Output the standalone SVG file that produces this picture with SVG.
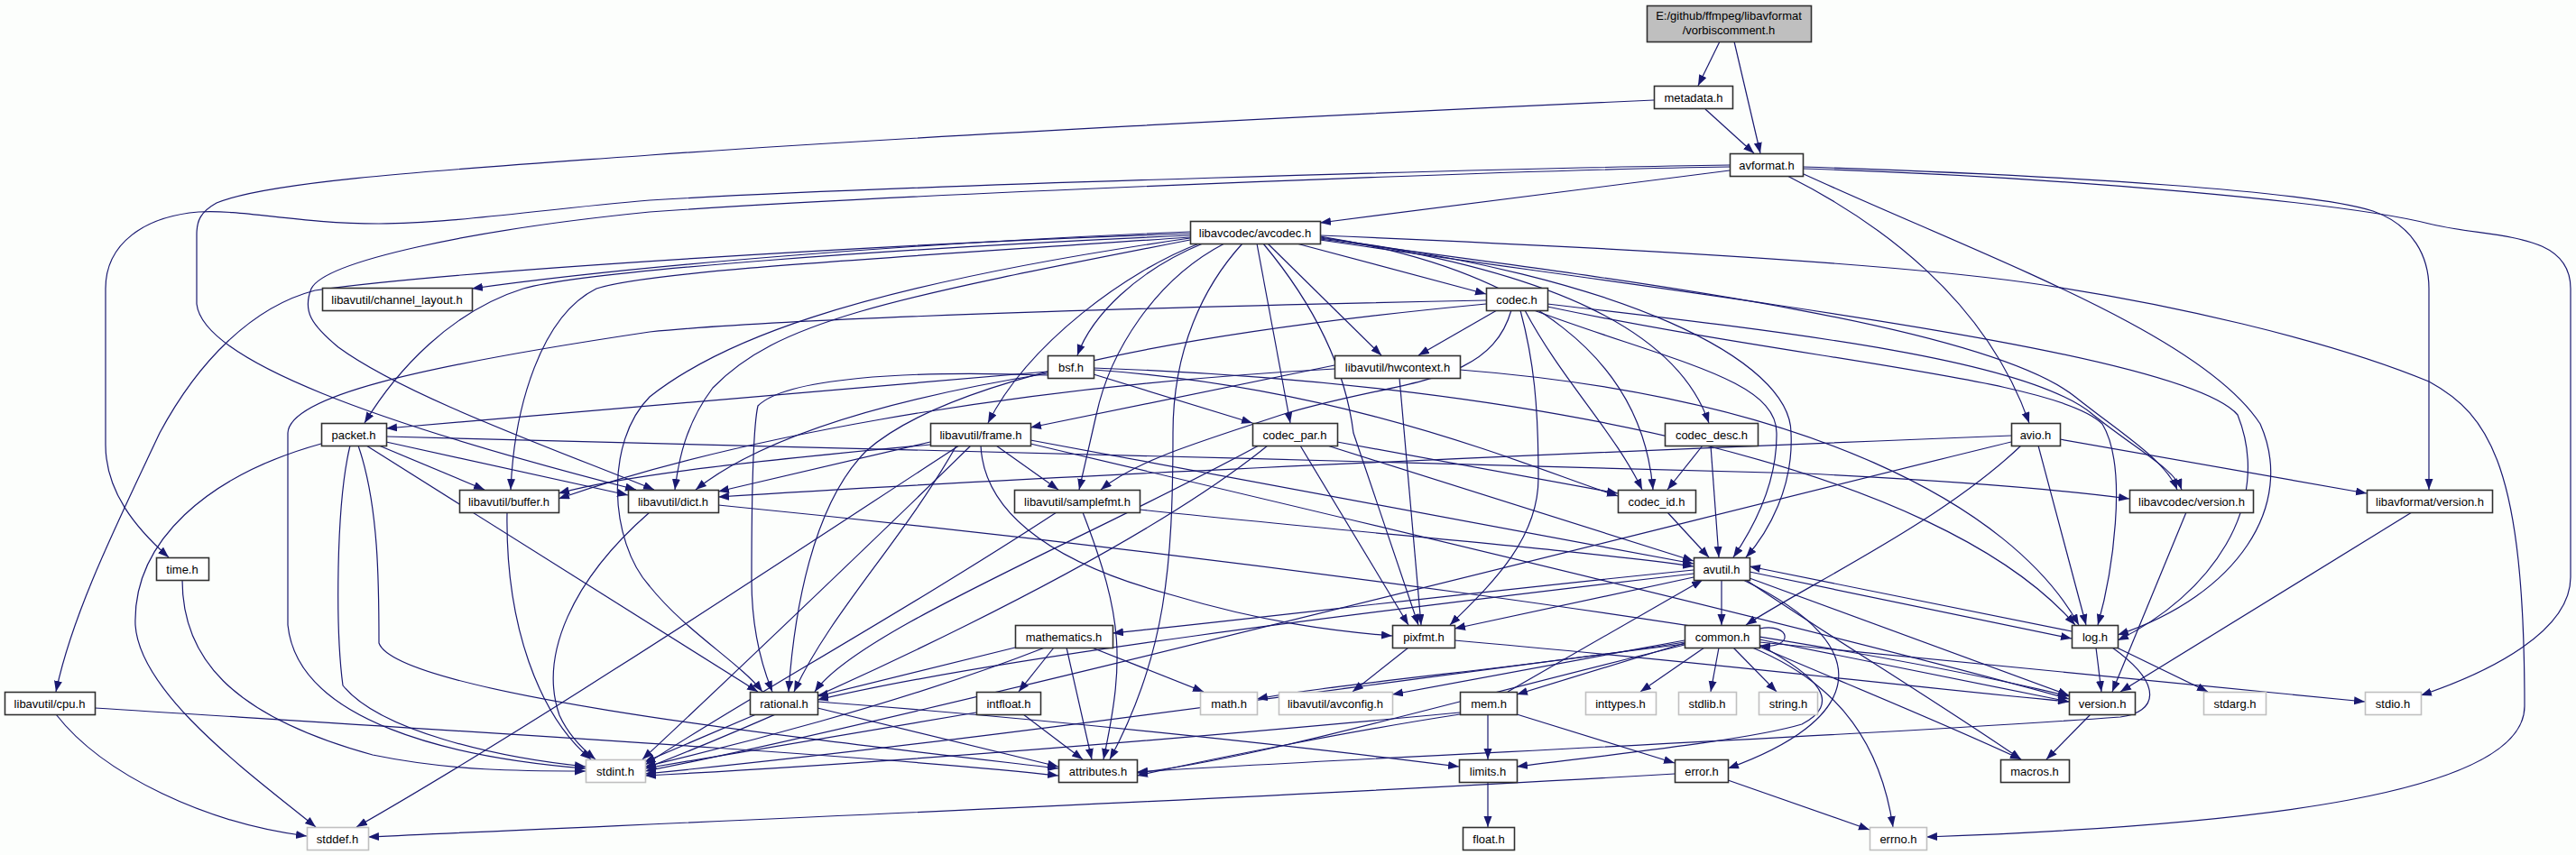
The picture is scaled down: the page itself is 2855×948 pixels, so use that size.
<svg xmlns="http://www.w3.org/2000/svg" width="2855" height="948" viewBox="0 0 2855 948">
<defs>
<marker id="a" markerWidth="12" markerHeight="10" refX="12" refY="4.5" orient="auto" markerUnits="userSpaceOnUse"><path d="M0,0 L12,4.5 L0,9 z" fill="#191970"/></marker>
<style>
.n rect{fill:#ffffff;stroke:#303030;stroke-width:1.6}
.g rect{fill:#ffffff;stroke:#c0c0c0;stroke-width:1.6}
.r rect{fill:#bfbfbf;stroke:#303030;stroke-width:1.6}
text{font-family:"Liberation Sans",Arial,sans-serif;font-size:13px;text-anchor:middle;fill:#000000}
#edges path{fill:none;stroke:#191970;stroke-width:1.2;marker-end:url(#a)}
</style>
</defs>
<rect x="0" y="0" width="2855" height="948" fill="#fcfefc"/>
<g id="edges">
<path d="M1906,46 L1882,95"/>
<path d="M1922,46 L1951,170"/>
<path d="M1890,121 L1944,170"/>
<path d="M1833,111 C1500,126 1000,152 720,172 C500,188 300,200 240,225 C222,235 218,245 218,260 L218,337 C225,400 420,470 705,543"/>
<path d="M1917,189 L1463,247"/>
<path d="M1917,183 C1700,186 1000,205 720,222 C600,232 500,248 420,248 C330,248 270,232 220,235 C160,240 117,270 117,320 L117,493 C117,545 150,585 187,618"/>
<path d="M1917,185 C1700,188 1000,215 720,235 C520,255 360,290 345,320 C335,345 345,360 375,385 C450,440 620,500 725,543"/>
<path d="M1998,185 C2300,195 2560,212 2630,234 C2675,250 2692,285 2692,320 L2692,543"/>
<path d="M1998,187 C2300,197 2600,225 2692,248 C2760,265 2849,255 2849,320 L2849,640 C2849,700 2760,745 2683,771"/>
<path d="M1981,195 C2080,245 2200,330 2249,469"/>
<path d="M1999,193 C2200,285 2440,370 2505,470 C2545,560 2480,660 2347,704"/>
<path d="M1319,257 C1000,270 700,295 523,320"/>
<path d="M1319,259 C1000,270 500,300 349,322 C280,340 220,400 177,480 C130,580 80,680 62,767"/>
<path d="M1319,261 C1000,275 650,300 580,320 C500,345 440,410 404,469"/>
<path d="M1319,263 C1000,285 720,300 661,320 C600,350 570,450 566,543"/>
<path d="M1319,266 C975,333 861,357 790,430 C760,470 752,510 748,543"/>
<path d="M1319,264 C930,320 792,383 720,440 C670,490 675,600 720,650 C760,700 820,735 845,767"/>
<path d="M1329,270 C1250,300 1140,380 1095,469"/>
<path d="M1333,270 C1260,300 1210,350 1194,394"/>
<path d="M1357,270 C1280,310 1230,390 1215,460 L1196,543"/>
<path d="M1377,270 C1334,317 1300,387 1300,480 C1300,627 1292,727 1230,842"/>
<path d="M1393,270 L1430,469"/>
<path d="M1437,270 L1647,326"/>
<path d="M1405,270 L1531,394"/>
<path d="M1400,270 C1450,330 1490,400 1500,480 L1572,693"/>
<path d="M1463,263 C1721,300 1859,367 1894,469"/>
<path d="M1463,262 C1700,300 1820,400 1832,543"/>
<path d="M1463,264 C1800,305 1985,400 1985,480 C1988,540 1960,590 1935,618"/>
<path d="M1463,265 C1800,310 2200,360 2300,440 C2350,480 2400,510 2413,543"/>
<path d="M1463,266 C1900,330 2420,390 2480,460 C2520,560 2450,660 2347,710"/>
<path d="M1463,261 C1800,275 2100,293 2244,313 C2400,335 2581,377 2692,423 C2760,460 2798,520 2798,783 C2798,880 2500,915 2135,928"/>
<path d="M1647,333 C1400,338 900,350 720,368 C459,407 321,440 319,480 L319,693 C330,800 500,840 649,852"/>
<path d="M1659,344 L1572,394"/>
<path d="M1675,344 C1650,430 1550,420 1420,460 C1330,490 1260,510 1220,543"/>
<path d="M1647,337 C1300,370 1050,420 960,500 C900,560 880,680 874,767"/>
<path d="M1685,344 C1700,400 1705,450 1705,530 C1705,600 1650,650 1607,693"/>
<path d="M1690,344 C1730,420 1790,480 1820,543"/>
<path d="M1700,344 C1850,400 1969,420 1969,480 C1970,540 1940,590 1921,618"/>
<path d="M1715,340 C2000,400 2280,420 2330,470 C2360,520 2340,640 2325,693"/>
<path d="M1715,337 C2000,370 2250,400 2320,460 C2370,500 2410,520 2418,543"/>
<path d="M1161,412 L428,475"/>
<path d="M1161,414 C1000,440 850,480 771,543"/>
<path d="M1161,416 C1000,410 870,420 840,450 C833,480 833,600 833,643 C833,700 845,740 856,767"/>
<path d="M1212,415 L1388,469"/>
<path d="M1212,410 C1500,430 1700,520 1793,550"/>
<path d="M1212,408 C1700,425 2150,520 2300,693"/>
<path d="M1479,409 C1100,430 800,490 619,553"/>
<path d="M1479,405 L1142,474"/>
<path d="M1618,410 C2000,440 2230,560 2304,693"/>
<path d="M1551,419 L1575,693"/>
<path d="M356,492 C230,527 147,600 150,693 C155,770 280,860 350,917"/>
<path d="M388,494 C372,560 372,700 380,760 C420,810 550,840 649,850"/>
<path d="M397,494 C420,560 420,650 420,713 C440,770 900,820 1173,852"/>
<path d="M406,494 L840,767"/>
<path d="M420,494 L537,543"/>
<path d="M428,490 L696,549"/>
<path d="M428,484 C800,495 1500,510 2000,525 C2200,535 2300,545 2360,553"/>
<path d="M1031,490 L796,545"/>
<path d="M1031,493 C850,510 700,525 619,547"/>
<path d="M1104,494 L1173,543"/>
<path d="M1142,488 L1877,625"/>
<path d="M1087,494 C1090,560 1150,620 1300,660 C1400,690 1480,700 1543,705"/>
<path d="M1142,492 C1600,600 2100,720 2293,775"/>
<path d="M1060,494 C1000,600 920,680 880,767"/>
<path d="M1076,494 C975,593 800,760 712,842"/>
<path d="M1063,494 C900,600 600,800 395,917"/>
<path d="M1405,494 C1250,620 900,780 715,852"/>
<path d="M1395,494 C1200,600 950,700 903,767"/>
<path d="M1441,494 L1561,693"/>
<path d="M1471,494 L1877,622"/>
<path d="M1482,490 L1793,547"/>
<path d="M1887,494 L1848,543"/>
<path d="M1896,494 L1905,618"/>
<path d="M1848,568 L1894,618"/>
<path d="M2229,490 C1900,570 1000,800 715,855"/>
<path d="M2240,494 C2150,580 2000,650 1935,693"/>
<path d="M2229,483 C1800,500 1200,525 796,551"/>
<path d="M2259,494 L2312,693"/>
<path d="M2283,487 L2623,547"/>
<path d="M2423,568 L2341,767"/>
<path d="M2673,568 L2350,767"/>
<path d="M562,568 C560,693 597,793 655,842"/>
<path d="M720,568 C634,643 597,727 620,793 C630,815 645,830 660,842"/>
<path d="M796,560 C1300,610 2000,700 2293,772"/>
<path d="M1171,568 C1000,680 800,790 715,848"/>
<path d="M1200,568 C1246,687 1246,733 1223,842"/>
<path d="M1263,565 C1500,590 1750,610 1877,628"/>
<path d="M202,643 C202,727 253,793 413,837 C500,855 580,855 649,855"/>
<path d="M62,792 C115,860 230,913 340,927"/>
<path d="M105,785 C500,810 1000,840 1173,860"/>
<path d="M1908,643 L1908,693"/>
<path d="M1877,632 C1600,660 1400,685 1233,702"/>
<path d="M1877,640 L1612,697"/>
<path d="M1877,636 C1500,680 1100,730 906,776"/>
<path d="M1932,643 C2090,720 2060,800 1915,852"/>
<path d="M1939,641 L2293,771"/>
<path d="M1935,643 C2050,720 2150,780 2240,842"/>
<path d="M1939,634 L2296,708"/>
<path d="M2296,700 L1939,628"/>
<path d="M2323,718 L2329,767"/>
<path d="M2346,718 L2447,767"/>
<path d="M2341,718 C2400,760 2390,790 2350,795 C2000,820 1500,840 1260,856"/>
<path d="M1950,697 C1985,690 1990,720 1950,716"/>
<path d="M1889,718 L1818,767"/>
<path d="M1905,718 L1896,767"/>
<path d="M1921,718 L1969,767"/>
<path d="M1867,713 L1681,770"/>
<path d="M1867,710 L1543,770"/>
<path d="M1867,712 C1700,740 1500,755 1393,775"/>
<path d="M1867,714 C1500,760 1100,820 715,858"/>
<path d="M1867,715 C1600,780 1400,840 1260,857"/>
<path d="M1950,715 C2020,753 2040,780 1997,803 C1940,820 1800,835 1681,850"/>
<path d="M1942,718 C2043,760 2085,830 2098,917"/>
<path d="M1950,712 L2621,778"/>
<path d="M1950,717 C2050,760 2150,800 2240,842"/>
<path d="M1950,709 L2293,778"/>
<path d="M1671,767 L1887,643"/>
<path d="M1649,792 L1649,842"/>
<path d="M1681,792 L1856,846"/>
<path d="M1618,790 C1300,820 1000,845 715,860"/>
<path d="M1618,792 C1500,810 1350,840 1260,860"/>
<path d="M1561,718 L1499,767"/>
<path d="M1612,710 C1900,735 2100,760 2293,778"/>
<path d="M1125,718 L906,772"/>
<path d="M1158,718 C1000,780 800,830 715,850"/>
<path d="M1168,718 L1129,767"/>
<path d="M1182,718 L1210,842"/>
<path d="M1210,718 L1334,767"/>
<path d="M838,792 L714,845"/>
<path d="M906,785 L1173,850"/>
<path d="M906,778 C1200,800 1500,835 1617,850"/>
<path d="M1082,790 L715,852"/>
<path d="M1134,792 L1200,842"/>
<path d="M2317,792 L2268,842"/>
<path d="M1649,867 L1649,917"/>
<path d="M1915,865 L2072,920"/>
<path d="M1856,858 C1400,885 800,910 408,928"/>
</g>
<g id="n_root" class="r"><rect x="1825.5" y="6.5" width="182" height="40"/><text x="1916" y="22">E:/github/ffmpeg/libavformat</text><text x="1916" y="38">/vorbiscomment.h</text></g>
<g id="n_metadata" class="n"><rect x="1833.5" y="95.5" width="87" height="25"/><text x="1877" y="113">metadata.h</text></g>
<g id="n_avformat" class="n"><rect x="1917.5" y="170.5" width="81" height="25"/><text x="1958" y="188">avformat.h</text></g>
<g id="n_avcodec" class="n"><rect x="1319.5" y="245.5" width="144" height="25"/><text x="1391" y="263">libavcodec/avcodec.h</text></g>
<g id="n_channel_layout" class="n"><rect x="357.5" y="319.5" width="166" height="25"/><text x="440" y="337">libavutil/channel_layout.h</text></g>
<g id="n_codec" class="n"><rect x="1647.5" y="319.5" width="68" height="25"/><text x="1681" y="337">codec.h</text></g>
<g id="n_bsf" class="n"><rect x="1161.5" y="394.5" width="51" height="25"/><text x="1187" y="412">bsf.h</text></g>
<g id="n_hwcontext" class="n"><rect x="1479.5" y="394.5" width="139" height="25"/><text x="1549" y="412">libavutil/hwcontext.h</text></g>
<g id="n_packet" class="n"><rect x="356.5" y="469.5" width="72" height="25"/><text x="392" y="487">packet.h</text></g>
<g id="n_frame" class="n"><rect x="1031.5" y="469.5" width="111" height="25"/><text x="1087" y="487">libavutil/frame.h</text></g>
<g id="n_codec_par" class="n"><rect x="1388.5" y="469.5" width="94" height="25"/><text x="1435" y="487">codec_par.h</text></g>
<g id="n_codec_desc" class="n"><rect x="1845.5" y="469.5" width="103" height="25"/><text x="1897" y="487">codec_desc.h</text></g>
<g id="n_avio" class="n"><rect x="2229.5" y="469.5" width="54" height="25"/><text x="2256" y="487">avio.h</text></g>
<g id="n_buffer" class="n"><rect x="509.5" y="543.5" width="110" height="25"/><text x="564" y="561">libavutil/buffer.h</text></g>
<g id="n_dict" class="n"><rect x="696.5" y="543.5" width="100" height="25"/><text x="746" y="561">libavutil/dict.h</text></g>
<g id="n_samplefmt" class="n"><rect x="1124.5" y="543.5" width="139" height="25"/><text x="1194" y="561">libavutil/samplefmt.h</text></g>
<g id="n_codec_id" class="n"><rect x="1793.5" y="543.5" width="86" height="25"/><text x="1836" y="561">codec_id.h</text></g>
<g id="n_avcodec_version" class="n"><rect x="2360.5" y="543.5" width="137" height="25"/><text x="2429" y="561">libavcodec/version.h</text></g>
<g id="n_avformat_version" class="n"><rect x="2623.5" y="543.5" width="139" height="25"/><text x="2693" y="561">libavformat/version.h</text></g>
<g id="n_time" class="n"><rect x="173.5" y="618.5" width="58" height="25"/><text x="202" y="636">time.h</text></g>
<g id="n_avutil" class="n"><rect x="1877.5" y="618.5" width="62" height="25"/><text x="1908" y="636">avutil.h</text></g>
<g id="n_mathematics" class="n"><rect x="1125.5" y="693.5" width="108" height="25"/><text x="1179" y="711">mathematics.h</text></g>
<g id="n_pixfmt" class="n"><rect x="1543.5" y="693.5" width="69" height="25"/><text x="1578" y="711">pixfmt.h</text></g>
<g id="n_common" class="n"><rect x="1867.5" y="693.5" width="83" height="25"/><text x="1909" y="711">common.h</text></g>
<g id="n_log" class="n"><rect x="2296.5" y="693.5" width="51" height="25"/><text x="2322" y="711">log.h</text></g>
<g id="n_cpu" class="n"><rect x="5.5" y="767.5" width="100" height="25"/><text x="55" y="785">libavutil/cpu.h</text></g>
<g id="n_rational" class="n"><rect x="831.5" y="767.5" width="75" height="25"/><text x="869" y="785">rational.h</text></g>
<g id="n_intfloat" class="n"><rect x="1082.5" y="767.5" width="71" height="25"/><text x="1118" y="785">intfloat.h</text></g>
<g id="n_math" class="g"><rect x="1330.5" y="767.5" width="63" height="25"/><text x="1362" y="785">math.h</text></g>
<g id="n_avconfig" class="g"><rect x="1417.5" y="767.5" width="126" height="25"/><text x="1480" y="785">libavutil/avconfig.h</text></g>
<g id="n_mem" class="n"><rect x="1618.5" y="767.5" width="63" height="25"/><text x="1650" y="785">mem.h</text></g>
<g id="n_inttypes" class="g"><rect x="1757.5" y="767.5" width="78" height="25"/><text x="1796" y="785">inttypes.h</text></g>
<g id="n_stdlib" class="g"><rect x="1860.5" y="767.5" width="64" height="25"/><text x="1892" y="785">stdlib.h</text></g>
<g id="n_string" class="g"><rect x="1949.5" y="767.5" width="65" height="25"/><text x="1982" y="785">string.h</text></g>
<g id="n_version" class="n"><rect x="2293.5" y="767.5" width="73" height="25"/><text x="2330" y="785">version.h</text></g>
<g id="n_stdarg" class="g"><rect x="2442.5" y="767.5" width="69" height="25"/><text x="2477" y="785">stdarg.h</text></g>
<g id="n_stdio" class="g"><rect x="2621.5" y="767.5" width="62" height="25"/><text x="2652" y="785">stdio.h</text></g>
<g id="n_stdint" class="g"><rect x="649.5" y="842.5" width="66" height="25"/><text x="682" y="860">stdint.h</text></g>
<g id="n_attributes" class="n"><rect x="1173.5" y="842.5" width="87" height="25"/><text x="1217" y="860">attributes.h</text></g>
<g id="n_limits" class="n"><rect x="1617.5" y="842.5" width="64" height="25"/><text x="1649" y="860">limits.h</text></g>
<g id="n_error" class="n"><rect x="1856.5" y="842.5" width="59" height="25"/><text x="1886" y="860">error.h</text></g>
<g id="n_macros" class="n"><rect x="2217.5" y="842.5" width="76" height="25"/><text x="2255" y="860">macros.h</text></g>
<g id="n_stddef" class="g"><rect x="340.5" y="917.5" width="68" height="25"/><text x="374" y="935">stddef.h</text></g>
<g id="n_float" class="n"><rect x="1621.5" y="917.5" width="57" height="25"/><text x="1650" y="935">float.h</text></g>
<g id="n_errno" class="g"><rect x="2072.5" y="917.5" width="63" height="25"/><text x="2104" y="935">errno.h</text></g>
</svg>
